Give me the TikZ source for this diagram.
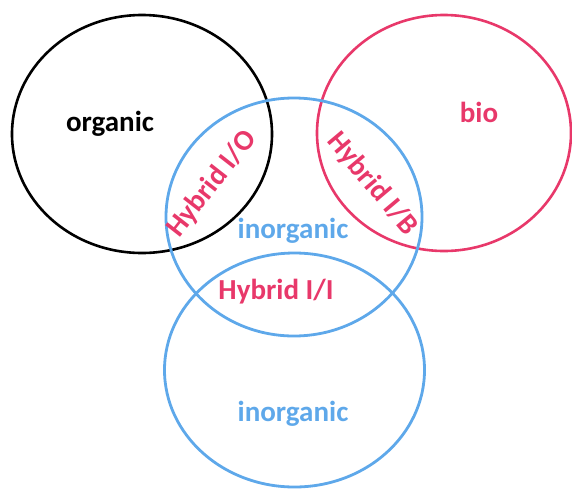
\documentclass[tikz,border=0pt]{standalone}
\usepackage{fontspec}
\setmainfont{Carlito}
\usetikzlibrary{shapes}
\definecolor{hybridpink}{RGB}{232,56,106}
\definecolor{inorgblue}{RGB}{94,168,234}
\tikzset{font=\fontsize{29}{32}\selectfont\bfseries}
\tikzstyle{none}=[inner sep=0pt]
\tikzstyle{ring}=[ellipse,draw,inner sep=0pt,line width=2.6pt]
\tikzstyle{orgring}=[ring,black,minimum width=260pt,minimum height=238pt]
\tikzstyle{bioring}=[ring,hybridpink,minimum width=254pt,minimum height=236pt]
\tikzstyle{inring}=[ring,inorgblue,line width=2.8pt,minimum width=256pt,minimum height=238pt]
\tikzstyle{hyb}=[none,text=hybridpink]
\tikzstyle{inlabel}=[none,text=inorgblue]

\begin{document}
\begin{tikzpicture}[x=1pt,y=-1pt]
	\useasboundingbox (0,0) rectangle (572,488);
	% rings
	\node [style=orgring] (org) at (142, 134) {};
	\node [style=bioring] (bio) at (444, 133) {};
	\node [style=inring] (in1) at (294, 217) {};
	\node [style=inring,minimum width=260pt,minimum height=234pt] (in2) at (294.5, 370) {};
	% labels
	\node [style=none] (0) at (110, 124) {organic};
	\node [style=none,text=hybridpink] (1) at (479, 112) {bio};
	\node [style=inlabel] (2) at (293, 231) {inorganic};
	\node [style=inlabel] (3) at (293, 414) {inorganic};
	\node [style=hyb,rotate=52] (4) at (212, 184) {Hybrid I/O};
	\node [style=hyb,rotate=-50] (5) at (372, 184) {Hybrid I/B};
	\node [style=hyb] (6) at (276, 292) {Hybrid I/I};
\end{tikzpicture}
\end{document}
